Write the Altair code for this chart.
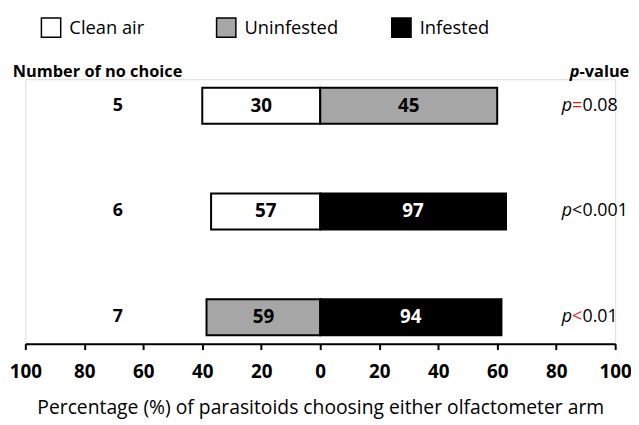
import altair as alt
import pandas as pd

# ---- data ----
rows = ["5", "6", "7"]                      # number of no choice
left_cat = ["Clean air", "Clean air", "Uninfested"]
right_cat = ["Uninfested", "Infested", "Infested"]
left_n = [30, 57, 59]
right_n = [45, 97, 94]
p_op = ["=", "<", "<"]
p_num = ["0.08", "0.001", "0.01"]
p_op_color = ["#e3191e", "black", "#e3191e"]
categories = ["Clean air", "Uninfested", "Infested"]
cat_colors = ["white", "#a6a6a6", "black"]
tick_values = [-100, -80, -60, -40, -20, 0, 20, 40, 60, 80, 100]
row_header = ["Number of no choice"]
x_title = "Percentage (%) of parasitoids choosing either olfactometer arm"

FONT = "Open Sans"

recs = []
for r, lc, rc, ln, rn in zip(rows, left_cat, right_cat, left_n, right_n):
    tot = ln + rn
    recs.append(dict(row=r, category=lc, n=ln, start=-100 * ln / tot, end=0.0))
    recs.append(dict(row=r, category=rc, n=rn, start=0.0, end=100 * rn / tot))
bars_df = pd.DataFrame(recs)
p_df = pd.DataFrame(dict(row=rows, op=p_op, num=p_num, opc=p_op_color))

yenc = alt.Y("row:N", scale=alt.Scale(domain=rows, paddingInner=0.66, paddingOuter=0.08), axis=None)
xscale = alt.Scale(domain=[-100, 100], nice=False, zero=False)

bars = alt.Chart(bars_df).mark_bar(stroke="black", strokeWidth=2).encode(
    x=alt.X("start:Q", scale=xscale, title=x_title,
            axis=alt.Axis(values=tick_values, labelExpr="abs(datum.value)", grid=False,
                          domainColor="black", domainWidth=2, tickColor="black", tickWidth=2,
                          tickSize=6, labelFontSize=19, labelFontWeight="bold", labelColor="black",
                          labelFont=FONT, labelPadding=13, titleFont=FONT, titleFontSize=19.5,
                          titleFontWeight="normal", titleColor="black", titlePadding=18,
                          labelFlush=False, labelOverlap=False)),
    x2="end:Q",
    y=yenc,
    fill=alt.Fill("category:N", scale=alt.Scale(domain=categories, range=cat_colors),
                  legend=alt.Legend(title=None, orient="none", legendX=15.5, legendY=-63,
                                    direction="horizontal", columns=3, gridAlign="all",
                                    columnPadding=50, symbolType="square", symbolSize=380,
                                    symbolStrokeColor="black", symbolStrokeWidth=1.5,
                                    symbolOpacity=1, labelFontSize=18.5, labelFont=FONT,
                                    labelColor="black", labelOffset=8, padding=0, labelLimit=0)),
)

bar_labels = alt.Chart(bars_df).transform_calculate(
    mid="(datum.start + datum.end) / 2"
).mark_text(font=FONT, fontSize=19, fontWeight="bold").encode(
    x=alt.X("mid:Q", scale=xscale, title=x_title),
    y=yenc,
    text="n:Q",
    color=alt.condition(alt.datum.category == "Infested", alt.value("white"), alt.value("black")),
)

row_labels = alt.Chart(pd.DataFrame(dict(row=rows))).mark_text(
    font=FONT, fontSize=18, fontWeight="bold", color="black"
).encode(x=alt.value(93.5), y=yenc, text="row:N")

header_left = alt.Chart(pd.DataFrame(dict(t=row_header))).mark_text(
    font=FONT, fontSize=16.5, fontWeight="bold", color="black", baseline="middle"
).encode(x=alt.value(73), y=alt.value(-7), text="t:N")

header_p = alt.Chart(pd.DataFrame(dict(t=["p"]))).mark_text(
    font=FONT, fontSize=16.5, fontWeight="bold", fontStyle="italic", align="right",
    baseline="middle", color="black"
).encode(x=alt.value(560), y=alt.value(-7), text="t:N")

header_val = alt.Chart(pd.DataFrame(dict(t=["-value"]))).mark_text(
    font=FONT, fontSize=16.5, fontWeight="bold", align="left", baseline="middle", color="black"
).encode(x=alt.value(560), y=alt.value(-7), text="t:N")

p_letter = alt.Chart(p_df).mark_text(
    font=FONT, fontSize=18, fontStyle="italic", align="right", color="black"
).encode(x=alt.value(552.5), y=yenc, text=alt.value("p"))

p_operator = alt.Chart(p_df).mark_text(font=FONT, fontSize=18, align="left").encode(
    x=alt.value(552.5), y=yenc, text="op:N", color=alt.Color("opc:N", scale=None)
)

p_number = alt.Chart(p_df).mark_text(font=FONT, fontSize=18, align="left", color="black").encode(
    x=alt.value(563), y=yenc, text="num:N"
)

chart = alt.layer(
    bars, bar_labels, row_labels, header_left, header_p, header_val, p_letter, p_operator, p_number
).properties(
    width=596, height=267.2,
    padding={"left": 17.5, "top": 69.8, "right": 16, "bottom": 76},
    autosize=alt.AutoSizeParams(type="none"),
).configure_view(stroke=None).configure(font=FONT)

chart.save("out.html", embed_options={"renderer": "svg", "actions": False})
